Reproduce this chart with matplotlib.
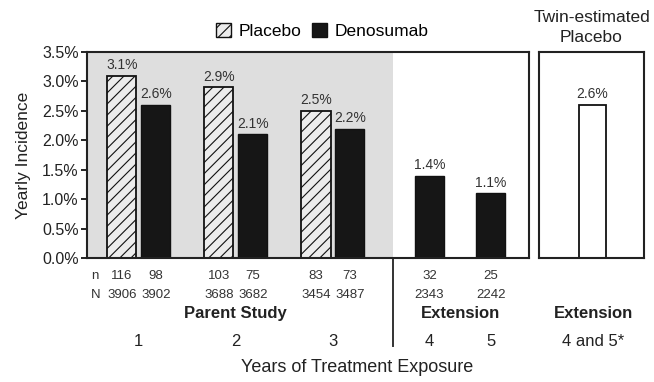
import numpy as np
import matplotlib
matplotlib.use("Agg")
import matplotlib.pyplot as plt
from matplotlib.lines import Line2D
from matplotlib.patches import Patch

plt.rcParams["font.family"] = ["Liberation Sans", "DejaVu Sans"]
plt.rcParams["hatch.color"] = "#555555"
plt.rcParams["hatch.linewidth"] = 0.8

# data
years = ["1", "2", "3", "4", "5"]
placebo = [3.1, 2.9, 2.5]
denosumab = [2.6, 2.1, 2.2, 1.4, 1.1]
n_placebo = [116, 103, 83]
N_placebo = [3906, 3688, 3454]
n_deno = [98, 75, 73, 32, 25]
N_deno = [3902, 3682, 3487, 2343, 2242]
twin_value = 2.6
yticks = [0.0, 0.5, 1.0, 1.5, 2.0, 2.5, 3.0, 3.5]

# layout
pos = np.array([1.0, 2.0, 3.0, 4.0, 4.63])
off_p, off_d, width = -0.17, 0.18, 0.30
shade_end = 3.624
xlim = (0.47, 5.026)

fig = plt.figure(figsize=(6.54, 3.82), dpi=100)
ax = fig.add_axes([87 / 654, 1 - 258 / 382, 442 / 654, 206 / 382])
ax2 = fig.add_axes([539 / 654, 1 - 258 / 382, 105 / 654, 206 / 382])

ax.axvspan(xlim[0], shade_end, color="#dedede", zorder=0, lw=0)

# parent study bars
ax.bar(pos[:3] + off_p, placebo, width, facecolor="#ececec", edgecolor="#111111",
       hatch="///", lw=1.3, zorder=2)
dpos = np.concatenate([pos[:3] + off_d, pos[3:]])
ax.bar(dpos, denosumab, width, facecolor="#161616", edgecolor="#111111", lw=1.0, zorder=2)

for x, v in zip(pos[:3] + off_p, placebo):
    ax.text(x, v + 0.06, f"{v:.1f}%", ha="center", va="bottom", fontsize=10, color="#333333")
for x, v in zip(dpos, denosumab):
    ax.text(x, v + 0.06, f"{v:.1f}%", ha="center", va="bottom", fontsize=10, color="#333333")

ax.set_xlim(*xlim)
ax.set_ylim(0, 3.5)
ax.set_yticks(yticks)
ax.set_yticklabels([f"{t:.1f}%" for t in yticks], fontsize=11.5, color="#222222")
ax.set_xticks([])
ax.tick_params(axis="y", direction="out", length=4, width=1.2, pad=2)
for s in ax.spines.values():
    s.set_linewidth(1.5)
    s.set_color("#222222")
ax.set_ylabel("Yearly Incidence", fontsize=12.5, color="#222222", labelpad=8)

# twin-estimated placebo
ax2.bar([0.51], [twin_value], 0.26, facecolor="white", edgecolor="#111111", lw=1.3, zorder=2)
ax2.text(0.51, twin_value + 0.06, f"{twin_value:.1f}%", ha="center", va="bottom",
         fontsize=10, color="#333333")
ax2.set_xlim(0, 1)
ax2.set_ylim(0, 3.5)
ax2.set_xticks([])
ax2.set_yticks([])
for s in ax2.spines.values():
    s.set_linewidth(1.5)
    s.set_color("#222222")
ax2.set_title("Twin-estimated\nPlacebo", fontsize=12.5, color="#222222", pad=7, linespacing=1.45)

# table under the axes
tr = ax.get_xaxis_transform()
ax.text(0.47 + 0.045, -0.085, "n", transform=tr, ha="left", va="center", fontsize=9.5, color="#333333")
ax.text(0.47 + 0.045, -0.18, "N", transform=tr, ha="left", va="center", fontsize=9.5, color="#333333")
for x, a, b in zip(pos[:3] + off_p, n_placebo, N_placebo):
    ax.text(x, -0.085, str(a), transform=tr, ha="center", va="center", fontsize=9.5, color="#333333")
    ax.text(x, -0.18, str(b), transform=tr, ha="center", va="center", fontsize=9.5, color="#333333")
for x, a, b in zip(dpos, n_deno, N_deno):
    ax.text(x, -0.085, str(a), transform=tr, ha="center", va="center", fontsize=9.5, color="#333333")
    ax.text(x, -0.18, str(b), transform=tr, ha="center", va="center", fontsize=9.5, color="#333333")

ax.text(pos[1], -0.27, "Parent Study", transform=tr, ha="center", va="center",
        fontsize=12, fontweight="bold", color="#222222")
ax.text((pos[3] + pos[4]) / 2, -0.27, "Extension", transform=tr, ha="center", va="center",
        fontsize=12, fontweight="bold", color="#222222")
for x, y in zip(pos, years):
    ax.text(x, -0.405, y, transform=tr, ha="center", va="center", fontsize=12, color="#222222")

tr2 = ax2.get_xaxis_transform()
ax2.text(0.52, -0.27, "Extension", transform=tr2, ha="center", va="center",
         fontsize=12, fontweight="bold", color="#222222")
ax2.text(0.52, -0.405, "4 and 5*", transform=tr2, ha="center", va="center",
         fontsize=12, color="#222222")

# divider between parent study and extension
ax.add_line(Line2D([shade_end, shade_end], [0, -0.425], transform=tr, color="#333333",
                   lw=1.4, clip_on=False))

fig.text(357 / 654, 1 - 368 / 382, "Years of Treatment Exposure", ha="center", va="center",
         fontsize=13, color="#222222")

# legend
handles = [Patch(facecolor="#ececec", edgecolor="#111111", hatch="///", lw=1.0, label="Placebo"),
           Patch(facecolor="#161616", edgecolor="#111111", lw=1.0, label="Denosumab")]
fig.legend(handles=handles, loc="center", bbox_to_anchor=(322 / 654, 1 - 31 / 382), ncol=2,
           frameon=False, fontsize=12.5, handlelength=0.9, handleheight=0.9, handletextpad=0.4,
           columnspacing=0.6, borderaxespad=0)

fig.savefig("out.png", dpi=100)
